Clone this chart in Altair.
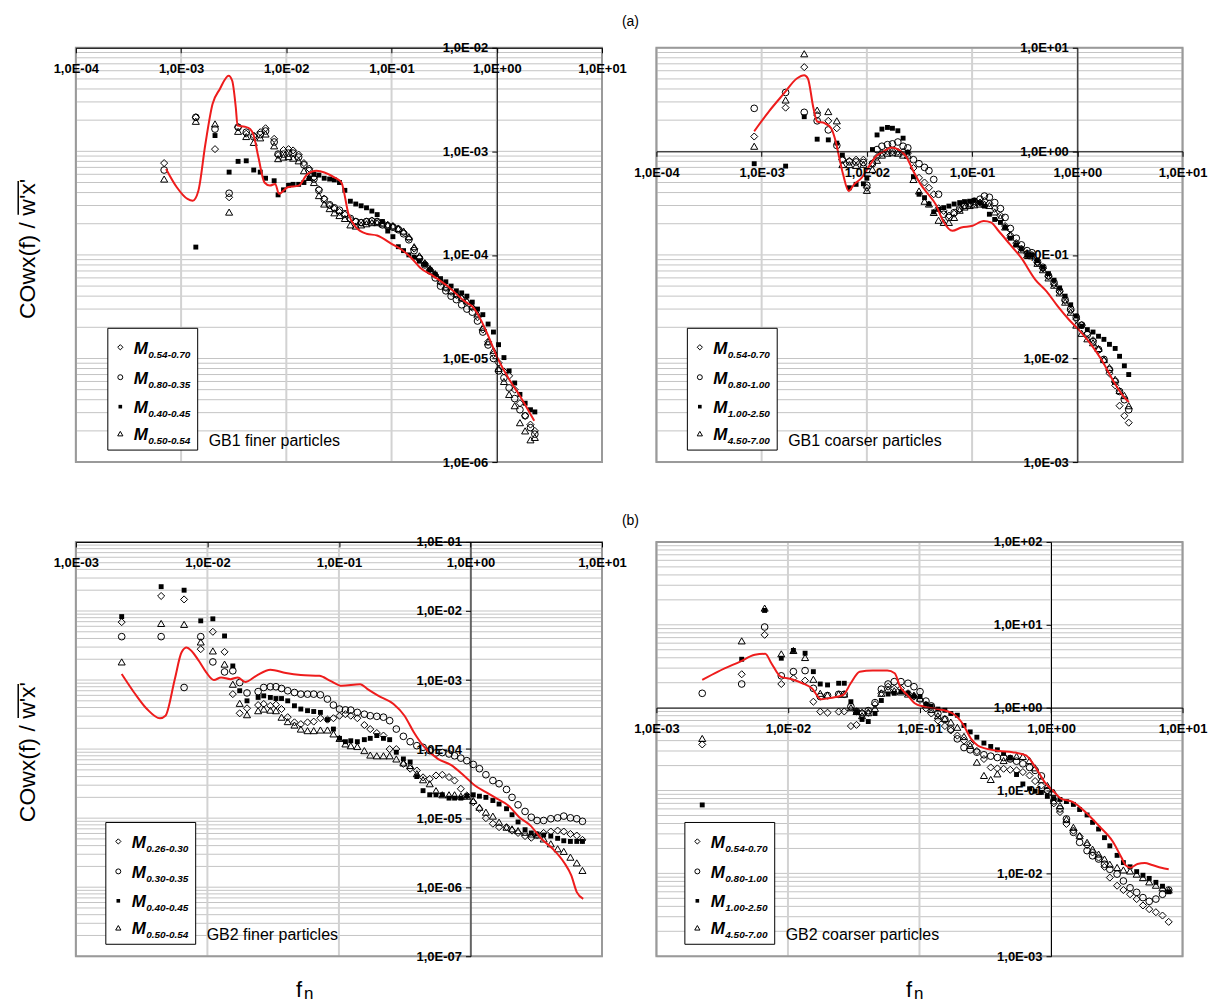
import math
import altair as alt
import pandas as pd

# ---------------- data ----------------
# (a) GB1 finer particles
gb1f_freq = [6.9e-4, 1.38e-3, 2.1e-3, 2.86e-3, 3.48e-3, 4.16e-3, 4.9e-3, 5.65e-3, 6.35e-3, 7.66e-3,
             8.35e-3, 9.4e-3, 1.05e-2, 1.16e-2, 1.31e-2, 1.47e-2, 1.65e-2, 1.83e-2, 2.04e-2, 2.29e-2,
             2.58e-2, 2.86e-2, 3.2e-2, 3.6e-2, 4.06e-2, 4.57e-2, 5.14e-2, 5.78e-2, 6.5e-2, 7.3e-2,
             8.2e-2, 9.2e-2, 0.103, 0.116, 0.13, 0.146, 0.164, 0.184, 0.207, 0.232,
             0.26, 0.292, 0.328, 0.368, 0.413, 0.464, 0.52, 0.585, 0.656, 0.737,
             0.827, 0.93, 1.04, 1.17, 1.31, 1.48, 1.66, 1.86, 2.09, 2.3]
gb1f_m1 = [7.7e-4, 2.13e-3, 1.05e-3, 3.6e-4, 1.71e-3, 1.48e-3, 1.42e-3, 1.53e-3, 1.67e-3, 1.32e-3,
           9.2e-4, 1.03e-3, 1.05e-3, 1.02e-3, 9.3e-4, 7.7e-4, 6.8e-4, 5.6e-4, 4.3e-4, 3.5e-4,
           3.0e-4, 2.8e-4, 2.6e-4, 2.45e-4, 2.2e-4, 2.1e-4, 2.05e-4, 2.1e-4, 2.15e-4, 2.1e-4,
           2.05e-4, 1.95e-4, 1.9e-4, 1.8e-4, 1.65e-4, 1.45e-4, 1.15e-4, 9.5e-5, 8.2e-5, 7.2e-5,
           6.4e-5, 5.5e-5, 4.8e-5, 4.4e-5, 4.1e-5, 3.8e-5, 3.5e-5, 3.1e-5, 2.5e-5, 1.9e-5,
           1.45e-5, 1.1e-5, 9.1e-6, 7.5e-6, 6.8e-6, 5.0e-6, 3.7e-6, 2.8e-6, 2.3e-6, 2.0e-6]
gb1f_m2 = [6.6e-4, 2.13e-3, 1.64e-3, 3.94e-4, 1.71e-3, 1.53e-3, 1.38e-3, 1.45e-3, 1.57e-3, 1.23e-3,
           9.4e-4, 9.4e-4, 9.6e-4, 9.6e-4, 8.8e-4, 7.4e-4, 6.5e-4, 5.4e-4, 4.2e-4, 3.43e-4,
           3.05e-4, 2.85e-4, 2.7e-4, 2.5e-4, 2.25e-4, 2.1e-4, 2.05e-4, 2.1e-4, 2.12e-4, 2.1e-4,
           1.95e-4, 1.9e-4, 1.85e-4, 1.75e-4, 1.6e-4, 1.4e-4, 1.1e-4, 9.2e-5, 8.0e-5, 7.0e-5,
           6.0e-5, 5.0e-5, 4.5e-5, 4.0e-5, 3.7e-5, 3.3e-5, 3.0e-5, 2.8e-5, 2.3e-5, 1.8e-5,
           1.35e-5, 1.0e-5, 7.6e-6, 6.5e-6, 5.2e-6, 4.1e-6, 3.2e-6, 2.8e-6, 2.15e-6, 1.86e-6]
gb1f_m3 = [None, 1.19e-4, 1.42e-3, 6.3e-4, 8.0e-4, 8.1e-4, 6.6e-4, 6.3e-4, 5.5e-4, 5.2e-4,
           3.8e-4, 4.25e-4, 4.7e-4, 4.8e-4, 4.8e-4, 5.0e-4, 5.5e-4, 6.0e-4, 5.9e-4, 5.5e-4,
           5.4e-4, 5.3e-4, 5.0e-4, 4.2e-4, 3.3e-4, 3.1e-4, 2.98e-4, 2.85e-4, 2.65e-4, 2.45e-4,
           2.1e-4, 1.7e-4, 1.5e-4, 1.2e-4, 1.1e-4, 1.0e-4, 9.5e-5, 8.7e-5, 8.1e-5, 7.2e-5,
           6.5e-5, 5.9e-5, 5.5e-5, 5.0e-5, 4.5e-5, 4.3e-5, 4.0e-5, 3.5e-5, 3.0e-5, 2.65e-5,
           2.15e-5, 1.8e-5, 1.36e-5, 1.02e-5, 7.6e-6, 5.8e-6, 4.5e-6, 3.7e-6, 3.2e-6, 3.05e-6]
gb1f_m4 = [5.4e-4, 1.95e-3, 1.84e-3, 2.59e-4, 1.56e-3, 1.39e-3, 1.22e-3, 1.35e-3, 1.47e-3, 1.13e-3,
           8.5e-4, 8.8e-4, 8.9e-4, 8.6e-4, 8.1e-4, 6.5e-4, 5.6e-4, 5.0e-4, 3.74e-4, 3.1e-4,
           2.8e-4, 2.55e-4, 2.4e-4, 2.25e-4, 1.95e-4, 1.9e-4, 1.95e-4, 2.0e-4, 2.05e-4, 2.05e-4,
           2.0e-4, 1.95e-4, 1.9e-4, 1.8e-4, 1.7e-4, 1.5e-4, 1.2e-4, 9.8e-5, 8.4e-5, 7.4e-5,
           6.6e-5, 5.6e-5, 4.9e-5, 4.5e-5, 4.2e-5, 3.9e-5, 3.6e-5, 3.2e-5, 2.7e-5, 2.0e-5,
           1.45e-5, 1.2e-5, 8.0e-6, 6.0e-6, 4.5e-6, 3.5e-6, 2.4e-6, 2.0e-6, 1.64e-6, 1.73e-6]
gb1f_line_f = [7.2e-4, 9.1e-4, 1.15e-3, 1.29e-3, 1.46e-3, 1.7e-3, 1.99e-3, 2.33e-3, 2.83e-3, 3.06e-3,
               3.31e-3, 3.44e-3, 4.03e-3, 4.53e-3, 4.9e-3, 5.43e-3, 6.2e-3, 6.98e-3, 7.85e-3, 8.5e-3,
               1.03e-2, 1.31e-2, 1.58e-2, 1.93e-2, 2.86e-2, 3.34e-2, 3.9e-2, 4.57e-2, 5.78e-2, 7.3e-2,
               0.1, 0.125, 0.155, 0.187, 0.25, 0.34, 0.49, 0.6, 0.7, 0.82, 1.0, 1.31, 1.66, 2.27]
gb1f_line_v = [6.76e-4, 4.5e-4, 3.47e-4, 3.34e-4, 4.17e-4, 1.17e-3, 2.86e-3, 3.98e-3, 5.37e-3, 4.8e-3,
               2.65e-3, 1.77e-3, 1.73e-3, 1.64e-3, 1.42e-3, 8.75e-4, 5.0e-4, 4.67e-4, 4.85e-4, 3.89e-4,
               4.5e-4, 4.67e-4, 6.0e-4, 6.5e-4, 5.6e-4, 5.0e-4, 2.48e-4, 1.85e-4, 1.6e-4, 1.54e-4,
               1.28e-4, 1.12e-4, 9.3e-5, 7.5e-5, 6.25e-5, 5.0e-5, 3.6e-5, 3.1e-5, 2.4e-5, 1.7e-5,
               1.05e-5, 6.3e-6, 4.35e-6, 2.5e-6]

# (a) GB1 coarser particles
gb1c_freq = [8.5e-4, 1.69e-3, 2.54e-3, 3.37e-3, 4.3e-3, 5.18e-3, 5.85e-3, 6.82e-3, 7.9e-3, 9.27e-3,
             1.0e-2, 1.13e-2, 1.25e-2, 1.39e-2, 1.57e-2, 1.75e-2, 1.97e-2, 2.21e-2, 2.45e-2, 2.77e-2,
             3.13e-2, 3.53e-2, 3.89e-2, 4.32e-2, 4.8e-2, 5.37e-2, 6.02e-2, 6.75e-2, 7.62e-2, 8.47e-2,
             9.48e-2, 0.105, 0.119, 0.131, 0.146, 0.164, 0.186, 0.206, 0.231, 0.263,
             0.294, 0.333, 0.37, 0.418, 0.471, 0.532, 0.601, 0.679, 0.766, 0.865,
             0.977, 1.10, 1.245, 1.41, 1.59, 1.79, 2.02, 2.29, 2.52, 2.80, 3.08]
gb1c_m1 = [1.39, 2.64, 6.5, 2.24, 1.97, 1.67, 0.83, 0.81, 0.83, 0.83,
           0.445, 0.77, 0.88, 0.96, 1.0, 1.0, 0.99, 0.99, 0.96, 0.69,
           0.555, 0.5, 0.445, 0.385, 0.282, 0.266, 0.24, 0.25, 0.275, 0.3,
           0.305, 0.315, 0.32, 0.33, 0.315, 0.28, 0.24, 0.19, 0.155, 0.13,
           0.115, 0.104, 0.1, 0.084, 0.074, 0.062, 0.052, 0.044, 0.036, 0.029,
           0.024, 0.021, 0.0175, 0.015, 0.012, 0.0095, 0.0072, 0.0055, 0.0035, 0.0028, 0.0024]
gb1c_m2 = [2.6, 3.7, 2.38, 1.97, 1.61, 1.14, 0.83, 0.79, 0.79, 0.78,
           0.47, 0.76, 1.04, 1.12, 1.16, 1.18, 1.23, 1.12, 1.08, 0.83,
           0.76, 0.70, 0.65, 0.535, 0.385, 0.247, 0.23, 0.256, 0.28, 0.3,
           0.315, 0.33, 0.345, 0.37, 0.36, 0.32, 0.28, 0.23, 0.18, 0.145,
           0.125, 0.11, 0.105, 0.086, 0.076, 0.063, 0.054, 0.045, 0.037, 0.03,
           0.025, 0.021, 0.017, 0.0145, 0.0122, 0.0098, 0.0078, 0.006, 0.0048, 0.004, 0.0032]
gb1c_m3 = [0.76, 0.72, 2.16, 1.31, 1.29, 1.2, 0.92, 0.445, 0.48, 0.486,
           0.55, 1.04, 1.44, 1.64, 1.7, 1.67, 1.58, 1.34, 0.98, 0.57,
           0.385, 0.357, 0.31, 0.26, 0.275, 0.286, 0.296, 0.31, 0.32, 0.327,
           0.33, 0.336, 0.32, 0.296, 0.247, 0.22, 0.206, 0.184, 0.145, 0.125,
           0.115, 0.1, 0.1, 0.088, 0.076, 0.066, 0.057, 0.048, 0.04, 0.033,
           0.0257, 0.0205, 0.019, 0.018, 0.0164, 0.0153, 0.0137, 0.0125, 0.0105, 0.0085, 0.007]
gb1c_m4 = [1.12, 3.13, 8.75, 2.5, 2.42, 1.97, 0.745, 0.745, 0.73, 0.75,
           0.42, 0.67, 0.82, 0.92, 0.96, 0.97, 0.96, 0.92, 0.92, 0.535,
           0.414, 0.33, 0.31, 0.257, 0.216, 0.206, 0.206, 0.23, 0.27, 0.29,
           0.3, 0.305, 0.31, 0.31, 0.3, 0.26, 0.23, 0.186, 0.155, 0.128,
           0.112, 0.1, 0.098, 0.083, 0.072, 0.06, 0.051, 0.043, 0.035, 0.028,
           0.021, 0.0175, 0.0155, 0.0142, 0.0125, 0.0098, 0.0082, 0.0063, 0.0049, 0.0044, 0.0035]
gb1c_line_f = [8.5e-4, 1.17e-3, 1.63e-3, 2.16e-3, 2.54e-3, 2.75e-3, 3.11e-3, 3.37e-3, 3.96e-3, 4.58e-3,
               5.05e-3, 5.48e-3, 5.94e-3, 6.71e-3, 7.57e-3, 8.9e-3, 1.05e-2, 1.23e-2, 1.45e-2, 1.7e-2,
               2.0e-2, 2.35e-2, 2.77e-2, 3.25e-2, 3.83e-2, 4.5e-2, 5.3e-2, 6.5e-2, 7.9e-2, 0.101,
               0.129, 0.151, 0.178, 0.228, 0.29, 0.4, 0.51, 0.65, 0.83, 1.06, 1.35, 1.72, 2.19, 2.8, 3.09]
gb1c_line_v = [1.56, 2.42, 3.62, 5.05, 5.43, 5.05, 2.6, 1.94, 1.87, 1.67,
               1.25, 0.86, 0.6, 0.414, 0.48, 0.555, 0.72, 0.9, 1.0, 1.09,
               1.04, 0.9, 0.643, 0.48, 0.385, 0.308, 0.213, 0.171, 0.184, 0.191,
               0.213, 0.206, 0.171, 0.127, 0.095, 0.0575, 0.0445, 0.032, 0.0238, 0.0184,
               0.0137, 0.0095, 0.0061, 0.0042, 0.0038]

# (b) GB2 finer particles
gb2f_freq = [2.23e-3, 4.45e-3, 6.65e-3, 8.9e-3, 1.1e-2, 1.35e-2, 1.56e-2, 1.76e-2, 2.0e-2, 2.43e-2,
             2.68e-2, 3.01e-2, 3.32e-2, 3.66e-2, 4.08e-2, 4.59e-2, 5.13e-2, 5.77e-2, 6.43e-2, 7.23e-2,
             8.18e-2, 9.08e-2, 0.101, 0.112, 0.123, 0.138, 0.156, 0.173, 0.194, 0.218,
             0.243, 0.273, 0.309, 0.348, 0.391, 0.436, 0.49, 0.547, 0.611, 0.687,
             0.757, 0.845, 0.938, 1.05, 1.17, 1.31, 1.48, 1.65, 1.88, 2.07,
             2.30, 2.60, 2.90, 3.21, 3.60, 4.08, 4.60, 5.12, 5.75, 6.43, 7.1]
gb2f_m1 = [6.9e-3, 1.65e-2, 1.47e-2, 2.8e-3, 5.0e-3, 2.56e-3, 6.25e-4, 3.3e-4, 3.9e-4, 4.34e-4,
           4.5e-4, 4.24e-4, 4.4e-4, 3.8e-4, 2.9e-4, 2.44e-4, 2.3e-4, 2.44e-4, 2.5e-4, 2.8e-4,
           2.67e-4, 2.8e-4, 3.04e-4, 3.2e-4, 3.04e-4, 2.8e-4, 2.23e-4, 1.95e-4, 1.71e-4, 1.57e-4,
           1.0e-4, 1.0e-4, 6.1e-5, 5.2e-5, 4.9e-5, 3.9e-5, 3.7e-5, 4.15e-5, 4.25e-5, 3.93e-5,
           3.5e-5, 2.66e-5, 2.13e-5, 1.7e-5, 1.37e-5, 1.0e-5, 8.3e-6, 7.4e-6, 7.4e-6, 6.6e-6,
           6.1e-6, 5.5e-6, 5.2e-6, 5.7e-6, 6.1e-6, 6.4e-6, 6.6e-6, 6.4e-6, 5.9e-6, 5.6e-6, 4.85e-6]
gb2f_m2 = [4.25e-3, 4.25e-3, 7.8e-4, 4.25e-3, 1.83e-3, 1.31e-3, 1.36e-3, 9.2e-4, 6.5e-4, 6.8e-4,
           7.8e-4, 8.0e-4, 8.0e-4, 7.55e-4, 7.0e-4, 6.6e-4, 6.25e-4, 6.25e-4, 6.25e-4, 6.1e-4,
           5.3e-4, 4.34e-4, 3.8e-4, 3.7e-4, 3.67e-4, 3.4e-4, 3.2e-4, 3.04e-4, 2.98e-4, 2.9e-4,
           2.58e-4, 1.95e-4, 1.53e-4, 1.28e-4, 1.12e-4, 1.06e-4, 9.5e-5, 8.8e-5, 8.9e-5, 8.5e-5,
           8.0e-5, 7.4e-5, 6.8e-5, 6.0e-5, 5.2e-5, 4.25e-5, 3.5e-5, 3.15e-5, 2.6e-5, 2.0e-5,
           1.56e-5, 1.25e-5, 1.03e-5, 9.25e-6, 9.25e-6, 9.8e-6, 1.01e-5, 1.07e-5, 1.01e-5, 9.8e-6, 9.0e-6]
gb2f_m3 = [8.3e-3, 2.25e-2, 2.0e-2, 7.2e-3, 7.7e-3, 4.35e-3, 1.6e-3, 7.0e-4, 5.0e-4, 5.6e-4,
           5.9e-4, 5.6e-4, 5.4e-4, 5.4e-4, 5.0e-4, 4.24e-4, 3.8e-4, 3.6e-4, 3.5e-4, 3.4e-4,
           2.67e-4, 1.95e-4, 1.43e-4, 1.28e-4, 1.32e-4, 1.28e-4, 1.37e-4, 1.43e-4, 1.57e-4, 1.43e-4,
           1.37e-4, 9.0e-5, 7.2e-5, 6.5e-5, 4.0e-5, 2.5e-5, 2.18e-5, 2.18e-5, 2.18e-5, 1.95e-5,
           1.95e-5, 1.95e-5, 2.1e-5, 2.18e-5, 2.08e-5, 2.0e-5, 1.8e-5, 1.6e-5, 1.37e-5, 1.12e-5,
           8.8e-6, 6.8e-6, 6.1e-6, 5.9e-6, 5.7e-6, 5.5e-6, 5.1e-6, 4.7e-6, 4.6e-6, 4.6e-6, 4.6e-6]
gb2f_m4 = [1.83e-3, 6.6e-3, 6.4e-3, 3.56e-3, 2.64e-3, 1.7e-3, 8.7e-4, 4.6e-4, 3.15e-4, 3.6e-4,
           3.8e-4, 3.67e-4, 3.6e-4, 2.9e-4, 2.5e-4, 2.23e-4, 1.95e-4, 1.85e-4, 1.85e-4, 1.89e-4,
           1.89e-4, 1.66e-4, 1.43e-4, 1.19e-4, 1.12e-4, 1.09e-4, 9.5e-5, 8.2e-5, 8.0e-5, 8.0e-5,
           8.0e-5, 7.2e-5, 6.3e-5, 5.8e-5, 4.4e-5, 3.6e-5, 3.15e-5, 2.5e-5, 2.18e-5, 2.18e-5,
           2.18e-5, 2.08e-5, 2.08e-5, 1.8e-5, 1.44e-5, 1.22e-5, 1.07e-5, 8.75e-6, 7.4e-6, 7.0e-6,
           6.6e-6, 6.25e-6, 5.9e-6, 5.7e-6, 5.0e-6, 4.25e-6, 3.6e-6, 3.3e-6, 2.72e-6, 2.25e-6, 1.75e-6]
gb2f_line_f = [2.23e-3, 2.77e-3, 3.47e-3, 4.36e-3, 4.8e-3, 5.65e-3, 6.35e-3, 6.95e-3, 7.57e-3, 8.6e-3,
               9.8e-3, 1.12e-2, 1.27e-2, 1.5e-2, 1.7e-2, 1.94e-2, 2.35e-2, 3.01e-2, 3.95e-2, 5.13e-2,
               7.1e-2, 8.6e-2, 0.105, 0.145, 0.165, 0.2, 0.26, 0.315, 0.371, 0.436,
               0.565, 0.709, 0.89, 1.08, 1.31, 1.6, 1.94, 2.35, 2.86, 3.47, 4.22, 5.13, 5.84, 6.43, 7.2]
gb2f_line_v = [1.22e-3, 6.6e-4, 3.8e-4, 2.79e-4, 3.04e-4, 1.03e-3, 2.5e-3, 2.95e-3, 2.64e-3, 1.9e-3,
               1.29e-3, 1.0e-3, 1.09e-3, 1.03e-3, 1.09e-3, 9.4e-4, 1.15e-3, 1.41e-3, 1.26e-3, 1.18e-3,
               1.15e-3, 9.75e-4, 8.25e-4, 8.7e-4, 7.4e-4, 5.9e-4, 4.5e-4, 3.04e-4, 1.75e-4, 1.12e-4,
               7.2e-5, 5.9e-5, 4.15e-5, 2.97e-5, 2.38e-5, 1.9e-5, 1.53e-5, 1.03e-5, 7.8e-6, 5.0e-6,
               3.6e-6, 2.3e-6, 1.48e-6, 8.5e-7, 6.8e-7]

# (b) GB2 coarser particles
gb2c_freq = [2.23e-3, 4.45e-3, 6.65e-3, 8.9e-3, 1.1e-2, 1.35e-2, 1.56e-2, 1.76e-2, 2.0e-2, 2.43e-2,
             2.68e-2, 3.01e-2, 3.32e-2, 3.66e-2, 4.08e-2, 4.59e-2, 5.13e-2, 5.77e-2, 6.43e-2, 7.23e-2,
             8.18e-2, 9.08e-2, 0.101, 0.112, 0.123, 0.138, 0.156, 0.173, 0.194, 0.218,
             0.243, 0.273, 0.309, 0.348, 0.391, 0.436, 0.49, 0.547, 0.611, 0.687,
             0.757, 0.845, 0.938, 1.05, 1.17, 1.31, 1.48, 1.65, 1.88, 2.07,
             2.3, 2.55, 2.8, 3.18, 3.55, 3.99, 4.48, 5.0, 5.58, 6.27, 7.04, 7.85]
gb2c_m1 = [0.36, 2.53, 7.57, 1.93, 2.26, 2.12, 1.18, 0.895, 0.87, 0.895,
           0.9, 0.6, 0.62, 0.87, 0.87, 1.1, 1.49, 1.79, 1.7, 1.71,
           1.49, 1.36, 1.24, 0.98, 0.85, 0.7, 0.6, 0.53, 0.46, 0.4,
           0.367, 0.3, 0.24, 0.19, 0.185, 0.183, 0.178, 0.175, 0.167, 0.152,
           0.13, 0.115, 0.1, 0.07, 0.055, 0.0395, 0.0328, 0.0279, 0.0219, 0.0179,
           0.0155, 0.012, 0.0089, 0.0071, 0.0063, 0.0056, 0.0049, 0.0041, 0.0037, 0.0034, 0.0031, 0.0026]
gb2c_m2 = [1.49, 1.93, 9.4, 2.42, 2.72, 2.8, 1.71, 1.36, 1.4, 1.45,
           1.45, 1.03, 0.9, 0.84, 0.92, 1.15, 1.67, 1.93, 2.06, 2.06,
           1.97, 1.79, 1.56, 1.2, 1.05, 0.85, 0.72, 0.55, 0.42, 0.33,
           0.31, 0.29, 0.27, 0.26, 0.25, 0.25, 0.24, 0.226, 0.21, 0.19,
           0.175, 0.15, 0.1, 0.075, 0.06, 0.0454, 0.0313, 0.0237, 0.0188, 0.0163,
           0.0149, 0.0129, 0.0112, 0.0098, 0.0081, 0.0067, 0.0059, 0.0051, 0.0046, 0.0049, 0.0056, 0.0063]
gb2c_m3 = [0.067, 3.84, 14.9, 3.95, 4.9, 4.54, 2.72, 1.93, 1.88, 1.97,
           1.97, 1.18, 0.895, 0.72, 0.68, 0.85, 1.22, 1.46, 1.49, 1.56,
           1.5, 1.38, 1.36, 1.1, 1.04, 0.96, 0.93, 0.85, 0.81, 0.61,
           0.51, 0.44, 0.374, 0.34, 0.31, 0.28, 0.25, 0.156, 0.12, 0.105,
           0.098, 0.095, 0.085, 0.08, 0.078, 0.0736, 0.068, 0.059, 0.0507, 0.0413,
           0.0343, 0.027, 0.0215, 0.0165, 0.0135, 0.012, 0.0105, 0.0095, 0.0087, 0.0078, 0.007, 0.006]
gb2c_m4 = [0.425, 6.4, 15.9, 4.46, 4.9, 4.03, 2.2, 1.49, 1.42, 1.46,
           1.46, 1.0, 0.9, 0.8, 0.87, 0.98, 1.49, 1.67, 1.6, 1.55,
           1.46, 1.42, 1.3, 1.1, 0.95, 0.8, 0.74, 0.67, 0.58, 0.45,
           0.35, 0.22, 0.152, 0.136, 0.159, 0.23, 0.248, 0.258, 0.258, 0.23,
           0.188, 0.135, 0.115, 0.095, 0.066, 0.045, 0.036, 0.0285, 0.0237, 0.0196,
           0.0171, 0.0149, 0.0129, 0.0118, 0.011, 0.0107, 0.0098, 0.0089, 0.0079, 0.0072, 0.0067, 0.0063]
gb2c_line_f = [2.23e-3, 2.94e-3, 4.33e-3, 5.6e-3, 6.72e-3, 7.48e-3, 8.8e-3, 1.07e-2, 1.29e-2, 1.52e-2,
               1.79e-2, 2.03e-2, 2.63e-2, 3.0e-2, 3.51e-2, 4.4e-2, 5.69e-2, 6.48e-2, 7.13e-2, 8.1e-2,
               9.2e-2, 0.108, 0.134, 0.179, 0.213, 0.247, 0.277, 0.32, 0.405, 0.51,
               0.646, 0.747, 0.916, 1.03, 1.19, 1.46, 1.85, 2.33, 2.94, 3.4,
               3.7, 4.03, 4.54, 5.16, 5.88, 6.9, 7.85]
gb2c_line_v = [2.16, 2.72, 3.6, 4.34, 4.46, 3.44, 2.37, 2.2, 1.97, 1.71,
               1.26, 1.3, 1.42, 1.97, 2.72, 2.8, 2.8, 2.6, 1.79, 1.42,
               1.13, 1.03, 0.97, 0.85, 0.64, 0.42, 0.35, 0.32, 0.3, 0.29,
               0.265, 0.2, 0.12, 0.1, 0.08, 0.073, 0.054, 0.037, 0.0244, 0.016,
               0.0125, 0.0117, 0.013, 0.0133, 0.0126, 0.0117, 0.0112]

legend_gb1_fine = ["0.54-0.70", "0.80-0.35", "0.40-0.45", "0.50-0.54"]
legend_gb1_coarse = ["0.54-0.70", "0.80-1.00", "1.00-2.50", "4.50-7.00"]
legend_gb2_fine = ["0.26-0.30", "0.30-0.35", "0.40-0.45", "0.50-0.54"]
legend_gb2_coarse = ["0.54-0.70", "0.80-1.00", "1.00-2.50", "4.50-7.00"]

# ---------------- styling / layout ----------------
FONT = "Liberation Sans"
W, H = 527, 415
OX, OY = 75.5, 46.5          # top-left of first plot area in the page
GAP_X, GAP_Y = 54.5, 80
RED = "#ee1c1c"
MARKS = [("diamond", False, 50), ("circle", False, 45), ("square", True, 24), ("triangle-up", False, 50)]
LEG_ROWS = [300, 330, 359.5, 386.5]
TITLE_SIZE = 23

one = pd.DataFrame({"a": [0]})
K = "round(log(datum.value)/LN10)"
LABEL_EXPR = f"'1,0E' + ({K} < 0 ? '-' : '+') + (abs({K}) < 10 ? '0' : '') + abs({K})"


def decades(lo, hi):
    return [10.0 ** k for k in range(round(math.log10(lo)), round(math.log10(hi)) + 1)]


def minors(lo, hi):
    out = []
    for k in range(round(math.log10(lo)), round(math.log10(hi))):
        out += [m * 10.0 ** k for m in range(1, 10)]
    return out + [hi]


def frac(v, lo, hi):
    return (math.log10(v) - math.log10(lo)) / (math.log10(hi) - math.log10(lo))


def txt(text, x, y, size, weight="normal", style="normal", align="left",
        baseline="alphabetic", angle=0):
    return alt.Chart(one).mark_text(
        text=text, font=FONT, fontSize=size, fontWeight=weight, fontStyle=style,
        align=align, baseline=baseline, angle=angle, color="black"
    ).encode(x=alt.value(x), y=alt.value(y))


def rule(x1, y1, x2, y2, color="black", width=1.5):
    return alt.Chart(one).mark_rule(color=color, strokeWidth=width).encode(
        x=alt.value(x1), x2=alt.value(x2), y=alt.value(y1), y2=alt.value(y2))


def panel(freq, series, lf, lv, xdom, ydom, y_at, labels, caption, leg_x, pre=(), post=()):
    xs = alt.Scale(type="log", domain=xdom, nice=False)
    ys = alt.Scale(type="log", domain=ydom, nice=False)
    common = dict(labelExpr=LABEL_EXPR, labelFont=FONT, labelFontSize=13, labelFontWeight="bold",
                  labelColor="black", tickColor="black", tickSize=5, tickWidth=1,
                  domainColor="black", domainWidth=1, grid=False, title=None,
                  labelFlush=False, labelOverlap=False, zindex=1)
    xaxis = alt.Axis(orient="bottom", offset=-H * frac(y_at, *ydom), values=decades(*xdom),
                     labelPadding=10, **common)
    yaxis = alt.Axis(orient="left", offset=-W * frac(1.0, *xdom), values=decades(*ydom),
                     labelPadding=4, **common)

    def X(field):
        return alt.X(field, scale=xs, axis=xaxis)

    def Y(field):
        return alt.Y(field, scale=ys, axis=yaxis)

    layers = list(pre)
    layers.append(alt.Chart(pd.DataFrame({"g": minors(*ydom)})).mark_rule(
        color="#c4c4c4", strokeWidth=1).encode(y=Y("g:Q")))
    layers.append(alt.Chart(pd.DataFrame({"g": decades(*xdom)})).mark_rule(
        color="#d2d2d2", strokeWidth=2).encode(x=X("g:Q")))
    layers.append(alt.Chart(one).mark_rect(fill="transparent", stroke="#9a9a9a", strokeWidth=2).encode(
        x=alt.value(0), x2=alt.value(W), y=alt.value(0), y2=alt.value(H)))

    for vals, (shape, filled, size) in zip(series, MARKS):
        rows = [{"f": f, "v": v} for f, v in zip(freq, vals) if v is not None]
        df = pd.DataFrame(rows)
        layers.append(alt.Chart(df).mark_point(
            shape=shape, filled=filled, size=size, color="black", opacity=1,
            strokeWidth=0 if filled else 1
        ).encode(x=X("f:Q"), y=Y("v:Q")))

    ldf = pd.DataFrame([{"f": f, "v": v} for f, v in zip(lf, lv)])
    layers.append(alt.Chart(ldf).mark_line(color=RED, strokeWidth=2, interpolate="monotone").encode(
        x=X("f:Q"), y=Y("v:Q")))

    # legend box
    bx = leg_x
    layers.append(alt.Chart(one).mark_rect(fill="white", stroke="black", strokeWidth=1).encode(
        x=alt.value(bx), x2=alt.value(bx + 90), y=alt.value(281), y2=alt.value(403)))
    for i, (lab, (shape, filled, size)) in enumerate(zip(labels, MARKS)):
        yy = LEG_ROWS[i]
        layers.append(alt.Chart(one).mark_point(
            shape=shape, filled=filled, size=size * 0.55, color="black", opacity=1,
            strokeWidth=0 if filled else 1).encode(x=alt.value(bx + 12.5), y=alt.value(yy)))
        layers.append(txt("M", bx + 26, yy + 6.5, 17, "bold", "italic"))
        layers.append(txt(lab, bx + 40.5, yy + 10.5, 10, "bold", "italic"))
    layers.append(txt(caption, bx + 101, 399, 16))
    layers += list(post)
    return alt.layer(*layers).properties(width=W, height=H)


def ytitle(dy):
    # rotated axis title with an overline over w'x'
    half = TITLE_SIZE * 6.1 / 2
    return [txt("COwx(f) / w'x'", -40.5, dy, TITLE_SIZE, align="center", angle=270),
            rule(-40.5 - TITLE_SIZE * 0.75, dy - half + 2, -40.5 - TITLE_SIZE * 0.75, dy - half + 36)]


page_bg = alt.Chart(one).mark_rect(fill="white").encode(
    x=alt.value(-OX), x2=alt.value(1208 - OX), y=alt.value(-OY), y2=alt.value(1004 - OY))

tl = panel(gb1f_freq, [gb1f_m1, gb1f_m2, gb1f_m3, gb1f_m4], gb1f_line_f, gb1f_line_v,
           [1e-4, 10], [1e-6, 1e-2], 1e-2, legend_gb1_fine, "GB1 finer particles", 32,
           pre=[page_bg],
           post=ytitle(248 - OY) + [txt("(a)", 631 - OX, 25 - OY, 14, align="center"),
                                    txt("(b)", 631 - OX, 525 - OY, 14, align="center")])
tr = panel(gb1c_freq, [gb1c_m1, gb1c_m2, gb1c_m3, gb1c_m4], gb1c_line_f, gb1c_line_v,
           [1e-4, 10], [1e-3, 10], 1.0, legend_gb1_coarse, "GB1 coarser particles", 31)
bl = panel(gb2f_freq, [gb2f_m1, gb2f_m2, gb2f_m3, gb2f_m4], gb2f_line_f, gb2f_line_v,
           [1e-3, 10], [1e-7, 1e-1], 1e-1, legend_gb2_fine, "GB2 finer particles", 30,
           post=ytitle(752 - 541.5) + [txt("f", 220.5, 456, 22), txt("n", 228.5, 458, 17)])
br = panel(gb2c_freq, [gb2c_m1, gb2c_m2, gb2c_m3, gb2c_m4], gb2c_line_f, gb2c_line_v,
           [1e-3, 10], [1e-3, 100], 1.0, legend_gb2_coarse, "GB2 coarser particles", 28.5,
           post=[txt("f", 250, 456, 22), txt("n", 258, 458, 17)])

chart = alt.concat(tl, tr, bl, br, columns=2, spacing={"row": GAP_Y, "column": GAP_X},
                   bounds="flush").properties(
    padding=0, autosize=alt.AutoSizeParams(type="pad")
).configure_view(strokeWidth=0).configure(font=FONT)

chart.save("out.html", embed_options={"renderer": "svg", "actions": False})
